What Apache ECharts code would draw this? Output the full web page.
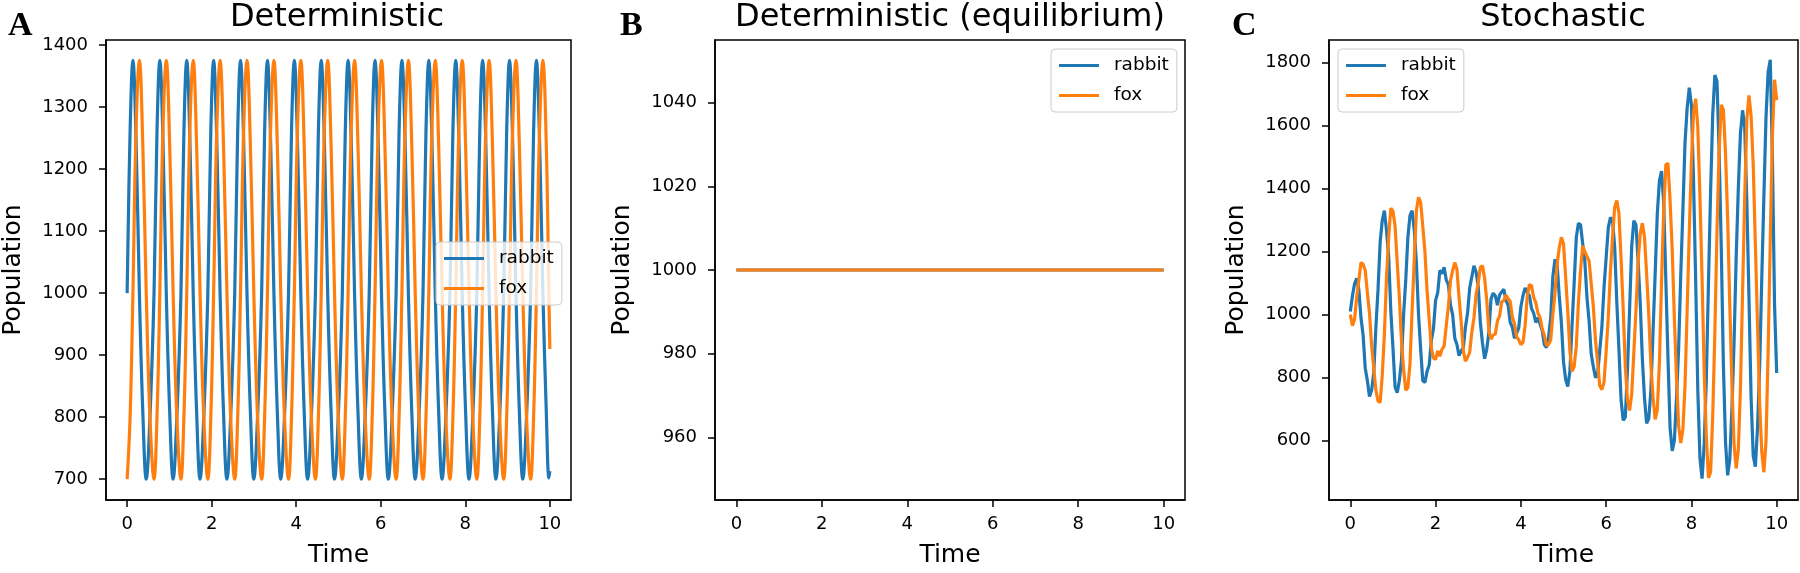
<!DOCTYPE html>
<html><head><meta charset="utf-8">
<script src="https://cdn.jsdelivr.net/npm/echarts@6/dist/echarts.min.js"></script>
<style>html,body{margin:0;padding:0;background:#fff}#c{width:1800px;height:573px}</style>
</head><body><div id="c"></div>
<script>
// ---------- DATA ----------
const seriesNames = ['rabbit', 'fox'];
const titles = ['Deterministic', 'Deterministic (equilibrium)', 'Stochastic'];
const letters = ['A', 'B', 'C'];
const xTicks = [0, 2, 4, 6, 8, 10];
const yTicksA = [700, 800, 900, 1000, 1100, 1200, 1300, 1400];
const yTicksB = [960, 980, 1000, 1020, 1040];
const yTicksC = [600, 800, 1000, 1200, 1400, 1600, 1800];

// Panel A: deterministic oscillation
const timeA = [
0,0.07,0.137,0.21,0.29,0.37,0.452,0.54,
0.636,0.706,0.773,0.846,0.926,1.006,1.088,1.176,
1.273,1.343,1.41,1.483,1.563,1.643,1.725,1.813,
1.909,1.979,2.046,2.119,2.199,2.279,2.361,2.449,
2.545,2.615,2.682,2.755,2.835,2.915,2.997,3.085,
3.182,3.252,3.319,3.392,3.472,3.552,3.634,3.722,
3.818,3.888,3.955,4.028,4.108,4.188,4.27,4.358,
4.454,4.524,4.591,4.664,4.744,4.824,4.906,4.994,
5.09,5.16,5.227,5.3,5.38,5.46,5.542,5.63,
5.727,5.797,5.864,5.937,6.017,6.097,6.179,6.267,
6.363,6.433,6.5,6.573,6.653,6.733,6.815,6.903,
6.999,7.069,7.136,7.209,7.289,7.369,7.451,7.539,
7.636,7.706,7.773,7.846,7.926,8.006,8.088,8.176,
8.272,8.342,8.409,8.482,8.562,8.642,8.724,8.812,
8.908,8.978,9.045,9.118,9.198,9.278,9.36,9.448,
9.545,9.615,9.682,9.755,9.835,9.915,9.978,10.0];
const rabbitA = [
1000,1260,1375,1250,1000,810,700,800,
1000,1260,1375,1250,1000,810,700,800,
1000,1260,1375,1250,1000,810,700,800,
1000,1260,1375,1250,1000,810,700,800,
1000,1260,1375,1250,1000,810,700,800,
1000,1260,1375,1250,1000,810,700,800,
1000,1260,1375,1250,1000,810,700,800,
1000,1260,1375,1250,1000,810,700,800,
1000,1260,1375,1250,1000,810,700,800,
1000,1260,1375,1250,1000,810,700,800,
1000,1260,1375,1250,1000,810,700,800,
1000,1260,1375,1250,1000,810,700,800,
1000,1260,1375,1250,1000,810,700,800,
1000,1260,1375,1250,1000,810,700,800,
1000,1260,1375,1250,1000,810,700,800,
1000,1260,1375,1250,1000,810,702,713];
const foxA = [
700,800,1000,1260,1375,1240,1000,800,
700,800,1000,1260,1375,1240,1000,800,
700,800,1000,1260,1375,1240,1000,800,
700,800,1000,1260,1375,1240,1000,800,
700,800,1000,1260,1375,1240,1000,800,
700,800,1000,1260,1375,1240,1000,800,
700,800,1000,1260,1375,1240,1000,800,
700,800,1000,1260,1375,1240,1000,800,
700,800,1000,1260,1375,1240,1000,800,
700,800,1000,1260,1375,1240,1000,800,
700,800,1000,1260,1375,1240,1000,800,
700,800,1000,1260,1375,1240,1000,800,
700,800,1000,1260,1375,1240,1000,800,
700,800,1000,1260,1375,1240,1000,800,
700,800,1000,1260,1375,1240,1000,800,
700,800,1000,1260,1375,1240,990,910];

// Panel B: equilibrium
const timeB = [0, 2, 4, 6, 8, 10];
const rabbitB = [1000, 1000, 1000, 1000, 1000, 1000];
const foxB = [1000, 1000, 1000, 1000, 1000, 1000];

// Panel C: stochastic
const timeC = [
0,0.05,0.1,0.15,0.2,0.25,0.3,0.35,0.4,0.45,0.5,0.55,0.6,0.65,0.7,0.75,0.8,0.85,0.9,0.95,
1,1.05,1.1,1.15,1.2,1.25,1.3,1.35,1.4,1.45,1.5,1.55,1.6,1.65,1.7,1.75,1.8,1.85,1.9,1.95,
2,2.05,2.1,2.15,2.2,2.25,2.3,2.35,2.4,2.45,2.5,2.55,2.6,2.65,2.7,2.75,2.8,2.85,2.9,2.95,
3,3.05,3.1,3.15,3.2,3.25,3.3,3.35,3.4,3.45,3.5,3.55,3.6,3.65,3.7,3.75,3.8,3.85,3.9,3.95,
4,4.05,4.1,4.15,4.2,4.25,4.3,4.35,4.4,4.45,4.5,4.55,4.6,4.65,4.7,4.75,4.8,4.85,4.9,4.95,
5,5.05,5.1,5.15,5.2,5.25,5.3,5.35,5.4,5.45,5.5,5.55,5.6,5.65,5.7,5.75,5.8,5.85,5.9,5.95,
6,6.05,6.1,6.15,6.2,6.25,6.3,6.35,6.4,6.45,6.5,6.55,6.6,6.65,6.7,6.75,6.8,6.85,6.9,6.95,
7,7.05,7.1,7.15,7.2,7.25,7.3,7.35,7.4,7.45,7.5,7.55,7.6,7.65,7.7,7.75,7.8,7.85,7.9,7.95,
8,8.05,8.1,8.15,8.2,8.25,8.3,8.35,8.4,8.45,8.5,8.55,8.6,8.65,8.7,8.75,8.8,8.85,8.9,8.95,
9,9.05,9.1,9.15,9.2,9.25,9.3,9.35,9.4,9.45,9.5,9.55,9.6,9.65,9.7,9.75,9.8,9.85,9.9,9.95,
10];
const rabbitC = [
1010,1060,1098,1115,1080,990,935,830,790,740,760,815,960,1080,1230,1300,1330,1265,1185,1010,
895,770,752,790,855,1000,1110,1245,1315,1330,1268,1165,1000,890,790,785,820,840,918,955,
1045,1070,1140,1130,1150,1110,1095,1030,1000,925,905,870,885,895,960,1005,1085,1120,1155,1135,
1090,975,910,860,890,945,1050,1068,1060,1030,1062,1072,1080,1045,1030,975,960,925,940,958,
1025,1060,1085,1070,1060,1020,1005,975,990,970,950,905,895,930,990,1120,1175,1160,1060,975,
850,795,772,820,965,1100,1245,1290,1285,1225,1170,1055,980,875,835,800,810,885,960,1085,
1180,1275,1308,1300,1215,1040,890,730,665,675,825,1015,1218,1298,1285,1170,1035,858,735,655,
670,760,945,1130,1320,1425,1455,1355,1110,865,640,568,600,735,890,1125,1330,1545,1655,1720,
1665,1425,1108,760,545,480,590,795,1100,1390,1635,1760,1740,1520,1215,840,595,490,540,700,
910,1180,1400,1575,1648,1595,1360,1055,735,552,518,640,830,1112,1375,1628,1770,1808,1500,1030,
815];
const foxC = [
1000,965,985,1055,1110,1165,1160,1140,1070,1005,900,830,760,725,722,810,940,1120,1248,1338,
1328,1280,1165,1055,915,825,760,768,845,1015,1175,1330,1372,1355,1280,1200,1075,985,895,862,
858,885,868,890,900,965,1025,1108,1140,1165,1145,1055,978,885,852,865,880,945,990,1065,
1100,1150,1155,1115,1045,948,922,935,938,980,995,1040,1045,1062,1050,1042,992,972,930,920,
905,912,965,1058,1095,1092,1055,1038,1005,990,955,935,902,905,920,1000,1068,1158,1212,1245,
1225,1120,1010,885,820,835,900,1038,1140,1218,1200,1185,1170,1098,1025,920,848,775,762,785,
882,990,1135,1245,1340,1362,1322,1178,1018,835,730,696,748,880,1015,1170,1258,1290,1245,1128,
1000,840,738,668,698,848,1105,1330,1475,1480,1360,1205,990,800,648,593,635,775,1012,1262,
1482,1640,1685,1595,1375,1115,820,612,482,500,678,945,1265,1520,1665,1650,1512,1305,1030,782,
588,512,570,765,1072,1370,1618,1695,1630,1475,1222,972,720,565,500,598,888,1240,1570,1745,
1680];

// ---------- LAYOUT / STYLE ----------
const FONT = 'DejaVu Sans';
const colors = ['#1f77b4', '#ff7f0e'];
const panels = [
  {t: timeA, s: [rabbitA, foxA], yTicks: yTicksA, ymin: 666.5, ymax: 1408,
   grid: {left: 103, top: 40, width: 468, height: 466}, legend: {left: 436, top: 242},
   titleX: 337, letterX: 8, smooth: 0.4},
  {t: timeB, s: [rabbitB, foxB], yTicks: yTicksB, ymin: 945, ymax: 1055,
   grid: {left: 715, top: 40, width: 470, height: 466}, legend: {left: 1051, top: 49},
   titleX: 950, letterX: 620, smooth: false},
  {t: timeC, s: [rabbitC, foxC], yTicks: yTicksC, ymin: 412, ymax: 1871,
   grid: {left: 1329, top: 40, width: 469, height: 466}, legend: {left: 1338, top: 49},
   titleX: 1563, letterX: 1232, smooth: false}
];

const axisLine = {show: true, onZero: false, lineStyle: {color: '#000', width: 1.5}};
const tickStyle = {color: '#000', width: 1.5};
const labelStyle = {fontFamily: FONT, fontSize: 18, color: '#000'};
const nameStyle = {fontFamily: FONT, fontSize: 25, color: '#000'};

const option = {animation: false, backgroundColor: '#fff',
  grid: [], xAxis: [], yAxis: [], series: [], legend: [], title: []};

panels.forEach((p, i) => {
  option.grid.push(Object.assign({show: true, borderColor: '#000', borderWidth: 1.5,
    backgroundColor: 'transparent'}, p.grid));
  option.xAxis.push({gridIndex: i, type: 'value', min: -0.5, max: 10.5,
    axisLine: axisLine,
    axisTick: {show: true, customValues: xTicks, length: 7, lineStyle: tickStyle},
    axisLabel: Object.assign({customValues: xTicks, margin: 15, formatter: v => String(v)}, labelStyle),
    splitLine: {show: false},
    name: 'Time', nameLocation: 'middle', nameGap: 43, nameTextStyle: nameStyle});
  option.yAxis.push({gridIndex: i, type: 'value', min: p.ymin, max: p.ymax,
    axisLine: axisLine,
    axisTick: {show: true, customValues: p.yTicks, length: 7, lineStyle: tickStyle},
    axisLabel: Object.assign({customValues: p.yTicks, margin: 18, formatter: v => String(v)}, labelStyle),
    splitLine: {show: false},
    name: 'Population', nameLocation: 'middle', nameGap: 80, nameRotate: 90, nameTextStyle: nameStyle});
  seriesNames.forEach((n, j) => {
    option.series.push({type: 'line', name: n, xAxisIndex: i, yAxisIndex: i,
      data: p.t.map((x, k) => [x, p.s[j][k]]),
      showSymbol: false, symbol: 'none', smooth: p.smooth,
      lineStyle: {width: 3.2, color: colors[j]}, itemStyle: {color: colors[j]},
      emphasis: {disabled: true}, z: 2 + j});
  });
  option.legend.push({orient: 'vertical', left: p.legend.left, top: p.legend.top,
    padding: [7, 8, 7, 8], itemGap: 11, itemWidth: 40, itemHeight: 3, icon: 'rect',
    backgroundColor: 'rgba(255,255,255,0.8)', borderColor: '#cccccc', borderWidth: 1, borderRadius: 4,
    selectedMode: false, data: seriesNames,
    textStyle: {fontFamily: FONT, fontSize: 18.5, color: '#000', lineHeight: 18, padding: [0, 0, 0, 10]}});
  option.title.push({text: titles[i], left: p.titleX, top: 2, textAlign: 'center', padding: 0,
    textStyle: {fontFamily: FONT, fontSize: 32, fontWeight: 'normal', color: '#000'}});
  option.title.push({text: letters[i], left: p.letterX, top: 9, padding: 0,
    textStyle: {fontFamily: 'Liberation Serif', fontSize: 34, fontWeight: 'bold', color: '#000'}});
});

const chart = echarts.init(document.getElementById('c'), null, {renderer: 'canvas'});
chart.setOption(option);
</script>
</body></html>
